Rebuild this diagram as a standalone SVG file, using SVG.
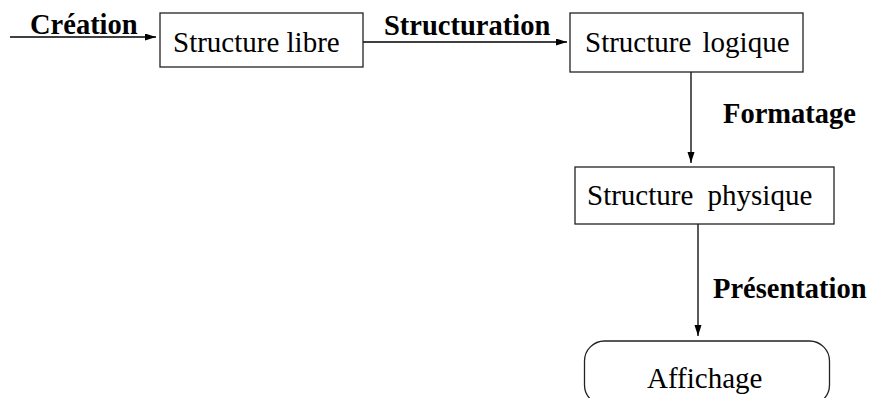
<svg xmlns="http://www.w3.org/2000/svg" width="871" height="398" viewBox="0 0 871 398">
<style>
.box{fill:#fff;stroke:#222;stroke-width:1.3}
.node{font-family:"Liberation Serif","Times New Roman",serif;font-size:29px;fill:#000}
.lbl{font-family:"Liberation Serif","Times New Roman",serif;font-size:28.5px;font-weight:bold;fill:#000}
.edge{fill:none;stroke:#000;stroke-width:1.3}
</style>
<defs>
<marker id="ah" markerUnits="userSpaceOnUse" markerWidth="12" markerHeight="8" refX="11" refY="3.5" orient="auto">
<path d="M0,0 L11,3.5 L0,7 z" fill="#000"/>
</marker>
</defs>
<rect width="871" height="398" fill="#fff"/>
<g id="connectors">
<path class="edge" d="M10,37 H156" marker-end="url(#ah)"/>
<path class="edge" d="M363,42 H567" marker-end="url(#ah)"/>
<path class="edge" d="M691,72 V163" marker-end="url(#ah)"/>
<path class="edge" d="M698,224 V336" marker-end="url(#ah)"/>
<text class="lbl" x="30" y="34">Création</text>
<text class="lbl" x="384" y="35">Structuration</text>
<text class="lbl" x="723" y="123">Formatage</text>
<text class="lbl" x="713" y="298">Présentation</text>
</g>
<g id="libre">
<rect class="box" x="160" y="13" width="203" height="54"/>
<text class="node" x="173" y="52">Structure libre</text>
</g>
<g id="logique">
<rect class="box" x="570" y="13" width="233" height="59"/>
<text class="node" x="585" y="52" word-spacing="4">Structure logique</text>
</g>
<g id="physique">
<rect class="box" x="575" y="167" width="259" height="57"/>
<text class="node" x="587" y="205" word-spacing="7">Structure physique</text>
</g>
<g id="affichage">
<rect class="box" x="584.5" y="341" width="245" height="64" rx="20" ry="20"/>
<text class="node" x="647" y="388">Affichage</text>
</g>
</svg>
